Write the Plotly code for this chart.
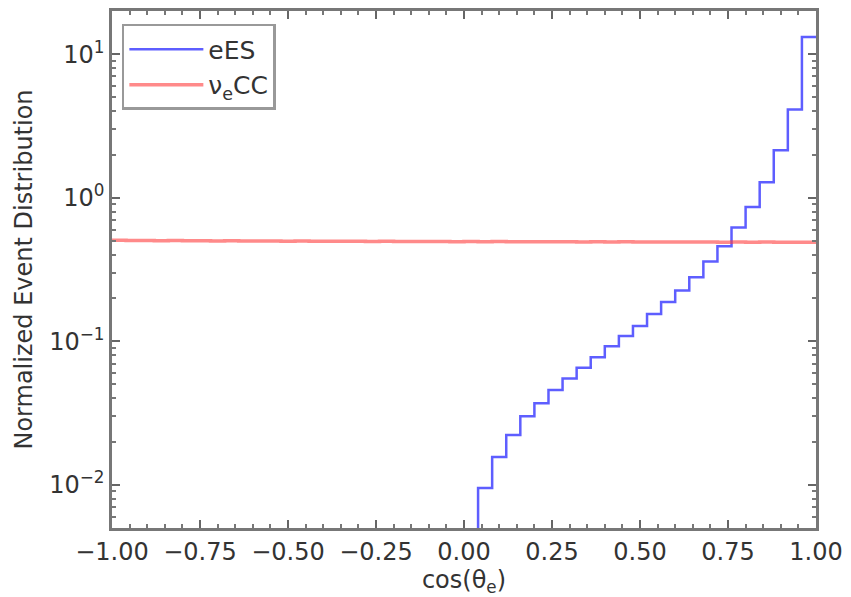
import numpy as np
import plotly.graph_objects as go

# eES histogram: bin edges 0.00..1.00 (width 0.04); first bin empty (below axis range)
ees_edges = [0.00, 0.04, 0.08, 0.12, 0.16, 0.20, 0.24, 0.28, 0.32, 0.36, 0.40, 0.44, 0.48,
             0.52, 0.56, 0.60, 0.64, 0.68, 0.72, 0.76, 0.80, 0.84, 0.88, 0.92, 0.96, 1.00]
ees_values = [0.001, 0.0095, 0.0156, 0.0222, 0.030, 0.037, 0.0457, 0.055, 0.0653, 0.0773,
              0.0923, 0.1087, 0.128, 0.155, 0.188, 0.226, 0.279, 0.36, 0.459, 0.62,
              0.863, 1.28, 2.14, 4.12, 13.2]

# nu_e CC histogram: 50 bins over [-1, 1]
cc_edges = [round(-1.0 + 0.04 * i, 2) for i in range(51)]
cc_values = [0.505, 0.503, 0.504, 0.502, 0.503, 0.501, 0.502, 0.500, 0.501, 0.500,
             0.499, 0.500, 0.498, 0.499, 0.498, 0.497, 0.498, 0.497, 0.496, 0.497,
             0.496, 0.495, 0.496, 0.495, 0.494, 0.495, 0.494, 0.495, 0.493, 0.494,
             0.493, 0.494, 0.493, 0.492, 0.493, 0.492, 0.493, 0.492, 0.491, 0.492,
             0.491, 0.492, 0.491, 0.490, 0.491, 0.490, 0.491, 0.490, 0.490, 0.490]

x_ticks = [-1.00, -0.75, -0.50, -0.25, 0.00, 0.25, 0.50, 0.75, 1.00]
x_ticklabels = ["\u22121.00", "\u22120.75", "\u22120.50", "\u22120.25", "0.00", "0.25", "0.50", "0.75", "1.00"]
y_ticks = [0.01, 0.1, 1, 10]
y_ticklabels = ["10<sup>\u22122</sup>", "10<sup>\u22121</sup>", "10<sup>0</sup>", "10<sup>1</sup>"]


def step_xy(edges, values):
    xs = list(edges[:-1]) + [edges[-1]]
    ys = list(values) + [values[-1]]
    return xs, ys


ex, ey = step_xy(ees_edges, ees_values)
cx, cy = step_xy(cc_edges, cc_values)

fig = go.Figure()
fig.add_trace(go.Scatter(x=ex, y=ey, mode="lines", line_shape="hv", name="eES",
                         line=dict(color="rgba(40,40,255,0.75)", width=2.5)))
fig.add_trace(go.Scatter(x=cx, y=cy, mode="lines", line_shape="hv", name="\u03bd<sub>e</sub>CC",
                         line=dict(color="rgba(255,60,60,0.6)", width=3.5)))

minor_y = []
for d in [0.001, 0.01, 0.1, 1, 10]:
    for k in range(2, 10):
        minor_y.append(k * d)
minor_y = [v for v in minor_y if 0.005 <= v <= 20]

font_fam = "DejaVu Sans"
fig.update_layout(
    width=851, height=597,
    margin=dict(l=112, r=33, t=8, b=62),
    paper_bgcolor="white", plot_bgcolor="white",
    font=dict(family=font_fam, size=24, color="#333"),
    showlegend=True,
    legend=dict(x=0.014, y=0.975, xanchor="left", yanchor="top",
                bgcolor="white", bordercolor="#999", borderwidth=2.5,
                font=dict(size=25, color="#333"), itemwidth=74,
                entrywidth=160, entrywidthmode="pixels"),
)
fig.update_xaxes(
    range=[-1, 1], tickvals=x_ticks, ticktext=x_ticklabels,
    ticks="inside", ticklen=8, tickwidth=1.5, tickcolor="#666",
    showline=True, linecolor="#777", linewidth=2.5, mirror="allticks",
    showgrid=False, zeroline=False,
    minor=dict(dtick=0.05, tick0=0, ticks="inside", ticklen=4, tickcolor="#777", tickwidth=1.5),
    title=dict(text="cos(\u03b8<sub>e</sub>)", standoff=7, font=dict(size=24)),
    tickfont=dict(size=24),
)
fig.update_yaxes(
    type="log", range=[np.log10(0.005), np.log10(20)],
    tickvals=y_ticks, ticktext=y_ticklabels,
    ticks="inside", ticklen=8, tickwidth=1.5, tickcolor="#666",
    showline=True, linecolor="#777", linewidth=2.5, mirror="allticks",
    showgrid=False, zeroline=False,
    minor=dict(tickvals=minor_y, ticks="inside", ticklen=4, tickcolor="#777", tickwidth=1.5),
    title=dict(text="Normalized Event Distribution", standoff=10, font=dict(size=24)),
    tickfont=dict(size=24),
)

fig.write_html("out.html")
